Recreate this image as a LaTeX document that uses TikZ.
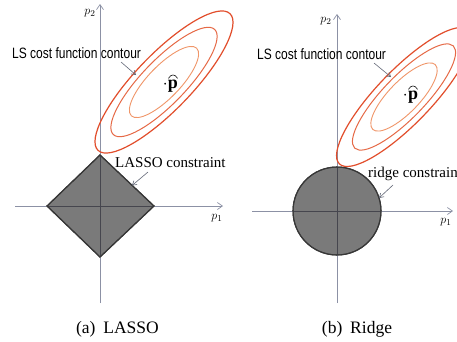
\documentclass[tikz,border=0pt]{standalone}
\usepackage{fontspec}
\setmainfont{Liberation Serif}
\newfontfamily\lsfont[FakeStretch=0.8]{Liberation Sans}
\usetikzlibrary{arrows.meta}
\definecolor{axiscol}{RGB}{140,145,165}
\definecolor{axisdark}{RGB}{70,70,78}
\definecolor{shapefill}{RGB}{122,122,122}
\definecolor{shapeedge}{RGB}{55,55,55}
\definecolor{ellA}{RGB}{226,78,44}
\definecolor{ellB}{RGB}{230,105,70}
\definecolor{ellC}{RGB}{240,150,105}
\definecolor{callcol}{RGB}{100,105,120}
\tikzset{
  axisline/.style={draw=axiscol, line width=0.7pt},
  axisarrow/.style={axisline, -{Straight Barb[length=5pt,width=7pt]}},
  darkaxis/.style={draw=axisdark, line width=0.8pt},
  region/.style={fill=shapefill, draw=shapeedge, line width=1.1pt},
  regionedge/.style={draw=shapeedge, line width=1.1pt},
  contA/.style={draw=ellA, line width=1.2pt},
  contB/.style={draw=ellB, line width=1.0pt},
  contC/.style={draw=ellC, line width=0.9pt},
  callout/.style={draw=callcol, line width=0.6pt, -{Straight Barb[length=4pt,width=5pt]}},
  lslabel/.style={font=\lsfont\fontsize{15}{17}\selectfont, inner sep=0pt, anchor=base west},
  serlabel/.style={font=\fontsize{15}{17}\selectfont, inner sep=0pt, anchor=base west},
  caplabel/.style={font=\fontsize{17.5}{20}\selectfont, inner sep=0pt, anchor=base},
  axlabel/.style={font=\fontsize{13}{15}\selectfont, inner sep=0pt},
  phat/.style={font=\fontsize{18}{20}\selectfont, inner sep=0pt},
  hatline/.style={draw=black!85, line width=0.7pt}
}
\begin{document}
\begin{tikzpicture}[x=1pt,y=-1pt]
\useasboundingbox (0,0) rectangle (457,341);
\fill[white] (0,0) rectangle (457,341);

% ================= (a) LASSO =================
\coordinate (La-o) at (100,206);
\coordinate (La-vb) at (100,303);
\coordinate (La-vt) at (100,4);
\coordinate (La-hl) at (15,206);
\coordinate (La-hr) at (223,206);
\coordinate (La-W) at (47,206);
\coordinate (La-E) at (154,206);
\coordinate (La-N) at (100,155);
\coordinate (La-S) at (100,257);

\path[region] (La-W) -- (La-N) -- (La-E) -- (La-S) -- cycle;
\draw[axisarrow] (La-vb) -- (La-vt);
\draw[axisarrow] (La-hl) -- (La-hr);
\begin{scope}
  \clip (La-W) -- (La-N) -- (La-E) -- (La-S) -- cycle;
  \draw[darkaxis] (La-vb) -- (La-vt);
  \draw[darkaxis] (La-hl) -- (La-hr);
\end{scope}
\path[regionedge] (La-W) -- (La-N) -- (La-E) -- (La-S) -- cycle;

\begin{scope}[shift={(164,82)}, rotate=46]
  \draw[contA] (0,0) ellipse [x radius=95pt, y radius=28pt];
  \draw[contB] (0,0) ellipse [x radius=73pt, y radius=22pt];
  \draw[contC] (0,0) ellipse [x radius=47pt, y radius=16pt];
\end{scope}

\node[axlabel] (La-p2) at (90,13) {$p_2$};
\node[axlabel] (La-p1) at (217,218) {$p_1$};
\node[phat, anchor=base] (La-pp) at (173,88) {$\mathbf{p}$};
\node[phat, anchor=base east] (La-dot) at (La-pp.base west) {$\cdot$};
\draw[hatline, shift={(La-pp.north)}] (-4.5,-1) .. controls (-2,-5.5) and (2,-5.5) .. (4.5,-1);

\node[lslabel] (La-ls) at (12,58) {LS cost function contour};
\coordinate (La-lsa) at (121,62);
\coordinate (La-lsb) at (136,75);
\draw[callout] (La-lsa) -- (La-lsb);

\node[serlabel] (La-cons) at (115,167) {LASSO constraint};
\coordinate (La-ca) at (148,172);
\coordinate (La-cb) at (132,185.5);
\draw[callout] (La-ca) -- (La-cb);

\node[caplabel] (La-cap) at (117.5,333) {(a)\hspace{0.45em}LASSO};

% ================= (b) Ridge =================
\coordinate (Rb-o) at (337,211);
\coordinate (Rb-vb) at (337,303);
\coordinate (Rb-vt) at (337,14);
\coordinate (Rb-hl) at (252,211);
\coordinate (Rb-hr) at (453,211);

\path[region] (Rb-o) circle [radius=44pt];
\draw[axisarrow] (Rb-vb) -- (Rb-vt);
\draw[axisarrow] (Rb-hl) -- (Rb-hr);
\begin{scope}
  \clip (Rb-o) circle [radius=44pt];
  \draw[darkaxis] (Rb-vb) -- (Rb-vt);
  \draw[darkaxis] (Rb-hl) -- (Rb-hr);
\end{scope}
\path[regionedge] (Rb-o) circle [radius=44pt];

\begin{scope}[shift={(404,97)}, rotate=46]
  \draw[contA] (0,0) ellipse [x radius=93pt, y radius=27pt];
  \draw[contB] (0,0) ellipse [x radius=71pt, y radius=21pt];
  \draw[contC] (0,0) ellipse [x radius=45pt, y radius=15.5pt];
\end{scope}

\node[axlabel] (Rb-p2) at (326,21) {$p_2$};
\node[axlabel] (Rb-p1) at (446,222) {$p_1$};
\node[phat, anchor=base] (Rb-pp) at (413,99) {$\mathbf{p}$};
\node[phat, anchor=base east] (Rb-dot) at (Rb-pp.base west) {$\cdot$};
\draw[hatline, shift={(Rb-pp.north)}] (-4.5,-1) .. controls (-2,-5.5) and (2,-5.5) .. (4.5,-1);

\node[lslabel] (Rb-ls) at (257,59) {LS cost function contour};
\coordinate (Rb-lsa) at (374,63);
\coordinate (Rb-lsb) at (391,77);
\draw[callout] (Rb-lsa) -- (Rb-lsb);

\node[serlabel] (Rb-cons) at (368,177) {ridge constrain};
\coordinate (Rb-ca) at (393,185);
\coordinate (Rb-cb) at (379,198);
\draw[callout] (Rb-ca) -- (Rb-cb);

\node[caplabel] (Rb-cap) at (357,333) {(b)\hspace{0.45em}Ridge};
\end{tikzpicture}
\end{document}
